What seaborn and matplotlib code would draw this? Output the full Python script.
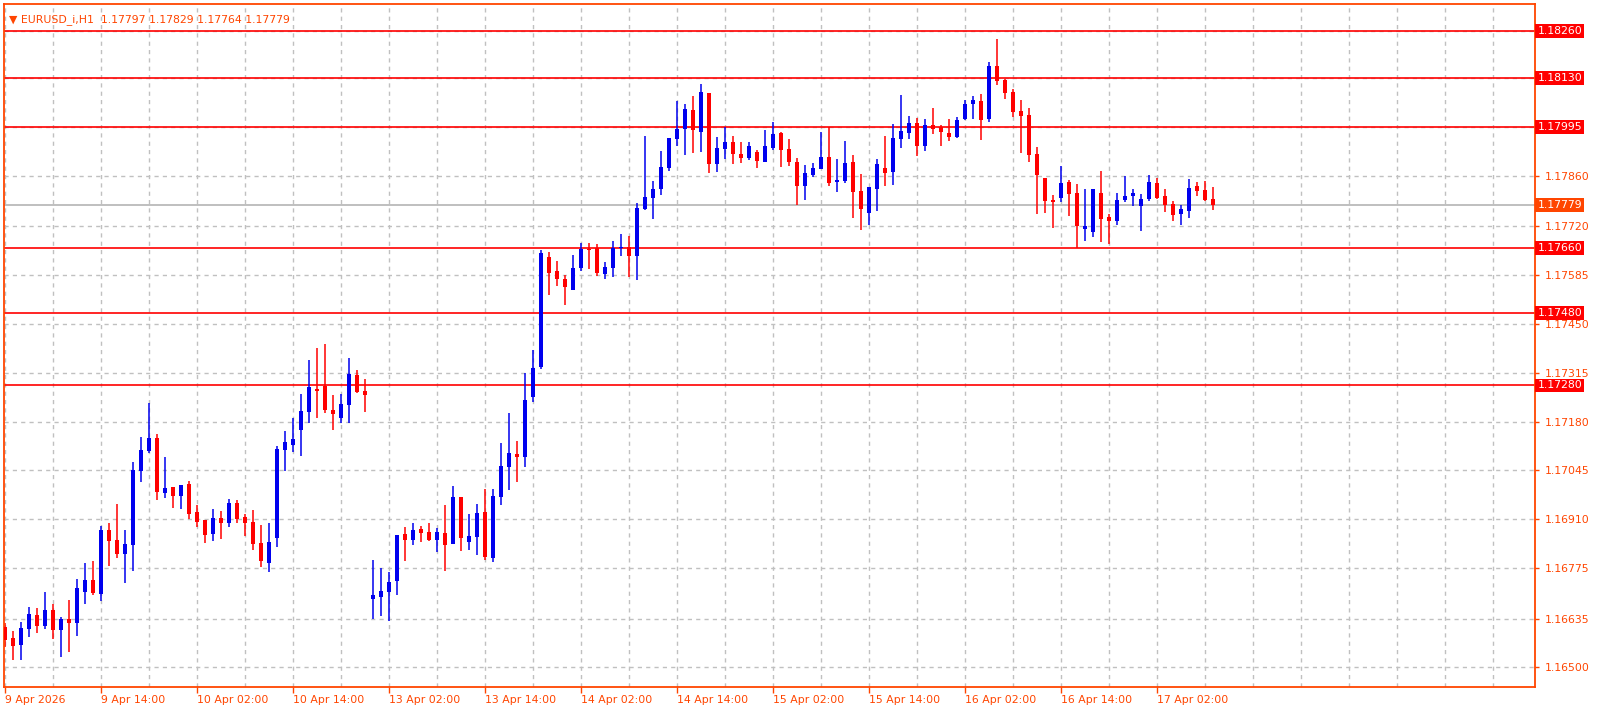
import matplotlib
matplotlib.use('Agg')
import matplotlib.pyplot as plt
import seaborn as sns
import numpy as np
import pandas as pd

# EURUSD_i H1 candles
opens = [1.16612, 1.16582, 1.16562, 1.16607, 1.16645, 1.16615, 1.16659, 1.16604, 1.16634, 1.16623,
         1.16709, 1.16742, 1.16703, 1.16880, 1.16853, 1.16814, 1.16839, 1.17043, 1.17099, 1.17135,
         1.16983, 1.16999, 1.16974, 1.17007, 1.16930, 1.16908, 1.16869, 1.16913, 1.16900, 1.16955,
         1.16916, 1.16902, 1.16844, 1.16789, 1.16858, 1.17102, 1.17115, 1.17157, 1.17207, 1.17270,
         1.17278, 1.17212, 1.17190, 1.17226, 1.17309, 1.17265, 1.16690, 1.16695, 1.16709, 1.16739,
         1.16869, 1.16853, 1.16883, 1.16875, 1.16853, 1.16872, 1.16842, 1.16972, 1.16847, 1.16861,
         1.16930, 1.16803, 1.16972, 1.17054, 1.17090, 1.17082, 1.17248, 1.17331, 1.17635, 1.17596,
         1.17574, 1.17544, 1.17605, 1.17657, 1.17660, 1.17588, 1.17605, 1.17660, 1.17663, 1.17638,
         1.17768, 1.17798, 1.17823, 1.17881, 1.17961, 1.17989, 1.18042, 1.17981, 1.18089, 1.17892,
         1.17934, 1.17953, 1.17920, 1.17909, 1.17925, 1.17898, 1.17937, 1.17978, 1.17934, 1.17898,
         1.17831, 1.17862, 1.17878, 1.17912, 1.17843, 1.17845, 1.17898, 1.17818, 1.17757, 1.17823,
         1.17881, 1.17870, 1.17961, 1.17978, 1.18006, 1.17942, 1.18000, 1.17995, 1.17978, 1.17967,
         1.18017, 1.18058, 1.18066, 1.18017, 1.18163, 1.18125, 1.18091, 1.18039, 1.18028, 1.17920,
         1.17854, 1.17793, 1.17798, 1.17843, 1.17812, 1.17713, 1.17704, 1.17812, 1.17746, 1.17735,
         1.17793, 1.17804, 1.17776, 1.17795, 1.17840, 1.17804, 1.17782, 1.17754, 1.17762, 1.17831,
         1.17820, 1.17797]
highs = [1.16623, 1.16601, 1.16626, 1.16667, 1.16665, 1.16709, 1.16676, 1.16640, 1.16687, 1.16745,
         1.16789, 1.16795, 1.16891, 1.16900, 1.16952, 1.16880, 1.17068, 1.17137, 1.17231, 1.17146,
         1.17082, 1.16999, 1.17005, 1.17016, 1.16949, 1.16908, 1.16938, 1.16933, 1.16966, 1.16963,
         1.16924, 1.16936, 1.16894, 1.16900, 1.17112, 1.17154, 1.17190, 1.17256, 1.17350, 1.17384,
         1.17395, 1.17254, 1.17256, 1.17356, 1.17323, 1.17298, 1.16797, 1.16775, 1.16764, 1.16866,
         1.16889, 1.16900, 1.16891, 1.16900, 1.16886, 1.16949, 1.17002, 1.16972, 1.16924, 1.16952,
         1.16994, 1.16994, 1.17121, 1.17204, 1.17126, 1.17314, 1.17378, 1.17654, 1.17649, 1.17624,
         1.17585, 1.17641, 1.17674, 1.17674, 1.17671, 1.17621, 1.17679, 1.17699, 1.17693, 1.17784,
         1.17970, 1.17845, 1.17928, 1.17964, 1.18066, 1.18058, 1.18080, 1.18113, 1.18089, 1.17967,
         1.17995, 1.17970, 1.17953, 1.17953, 1.17931, 1.17986, 1.18008, 1.17981, 1.17961, 1.17909,
         1.17890, 1.17895, 1.17981, 1.17995, 1.17906, 1.17956, 1.17917, 1.17865, 1.17829, 1.17906,
         1.17970, 1.18003, 1.18083, 1.18025, 1.18019, 1.18017, 1.18047, 1.18000, 1.18017, 1.18022,
         1.18069, 1.18080, 1.18086, 1.18174, 1.18238, 1.18127, 1.18100, 1.18069, 1.18047, 1.17939,
         1.17854, 1.17807, 1.17887, 1.17848, 1.17837, 1.17823, 1.17823, 1.17873, 1.17754, 1.17812,
         1.17859, 1.17823, 1.17809, 1.17862, 1.17854, 1.17823, 1.17790, 1.17779, 1.17851, 1.17843,
         1.17845, 1.17829]
lows = [1.16557, 1.16521, 1.16521, 1.16584, 1.16596, 1.16607, 1.16579, 1.16529, 1.16543, 1.16587,
        1.16676, 1.16700, 1.16684, 1.16781, 1.16803, 1.16734, 1.16767, 1.17013, 1.17093, 1.16963,
        1.16969, 1.16941, 1.16938, 1.16911, 1.16889, 1.16844, 1.16850, 1.16855, 1.16889, 1.16900,
        1.16864, 1.16825, 1.16778, 1.16764, 1.16833, 1.17043, 1.17096, 1.17085, 1.17176, 1.17190,
        1.17204, 1.17157, 1.17176, 1.17176, 1.17259, 1.17207, 1.16634, 1.16643, 1.16629, 1.16700,
        1.16795, 1.16839, 1.16847, 1.16850, 1.16819, 1.16767, 1.16842, 1.16822, 1.16825, 1.16811,
        1.16797, 1.16792, 1.16949, 1.16991, 1.17013, 1.17054, 1.17234, 1.17325, 1.17530, 1.17555,
        1.17502, 1.17544, 1.17596, 1.17602, 1.17583, 1.17574, 1.17580, 1.17638, 1.17580, 1.17572,
        1.17765, 1.17740, 1.17807, 1.17873, 1.17942, 1.17917, 1.17923, 1.17925, 1.17867, 1.17870,
        1.17906, 1.17892, 1.17895, 1.17903, 1.17881, 1.17898, 1.17931, 1.17884, 1.17887, 1.17779,
        1.17793, 1.17856, 1.17878, 1.17831, 1.17815, 1.17840, 1.17743, 1.17710, 1.17724, 1.17762,
        1.17831, 1.17834, 1.17937, 1.17961, 1.17914, 1.17928, 1.17975, 1.17942, 1.17956, 1.17964,
        1.18014, 1.18017, 1.17959, 1.18008, 1.18111, 1.18072, 1.18022, 1.17923, 1.17898, 1.17754,
        1.17757, 1.17715, 1.17787, 1.17749, 1.17660, 1.17679, 1.17690, 1.17677, 1.17671, 1.17724,
        1.17787, 1.17776, 1.17707, 1.17790, 1.17795, 1.17760, 1.17735, 1.17724, 1.17743, 1.17804,
        1.17790, 1.17764]
closes = [1.16576, 1.16560, 1.16609, 1.16648, 1.16615, 1.16659, 1.16604, 1.16634, 1.16623, 1.16720,
          1.16742, 1.16706, 1.16880, 1.16850, 1.16814, 1.16842, 1.17046, 1.17102, 1.17135, 1.16985,
          1.16996, 1.16974, 1.17005, 1.16924, 1.16902, 1.16866, 1.16913, 1.16900, 1.16955, 1.16911,
          1.16900, 1.16842, 1.16795, 1.16847, 1.17104, 1.17124, 1.17132, 1.17209, 1.17276, 1.17265,
          1.17212, 1.17201, 1.17229, 1.17312, 1.17262, 1.17254, 1.16700, 1.16712, 1.16737, 1.16866,
          1.16853, 1.16880, 1.16872, 1.16853, 1.16875, 1.16839, 1.16972, 1.16858, 1.16864, 1.16927,
          1.16806, 1.16974, 1.17057, 1.17093, 1.17082, 1.17240, 1.17328, 1.17646, 1.17591, 1.17574,
          1.17552, 1.17605, 1.17657, 1.17654, 1.17591, 1.17608, 1.17660, 1.17663, 1.17638, 1.17771,
          1.17801, 1.17823, 1.17884, 1.17964, 1.17989, 1.18044, 1.17986, 1.18091, 1.17892, 1.17937,
          1.17953, 1.17920, 1.17909, 1.17942, 1.17901, 1.17942, 1.17975, 1.17931, 1.17898, 1.17831,
          1.17867, 1.17881, 1.17912, 1.17840, 1.17848, 1.17895, 1.17815, 1.17768, 1.17829, 1.17892,
          1.17867, 1.17964, 1.17984, 1.18006, 1.17942, 1.18000, 1.17989, 1.17981, 1.17967, 1.18014,
          1.18058, 1.18069, 1.18014, 1.18163, 1.18122, 1.18089, 1.18036, 1.18025, 1.17917, 1.17862,
          1.17790, 1.17787, 1.17840, 1.17809, 1.17721, 1.17721, 1.17823, 1.17740, 1.17735, 1.17793,
          1.17804, 1.17812, 1.17795, 1.17843, 1.17798, 1.17779, 1.17751, 1.17768, 1.17826, 1.17818,
          1.17793, 1.17779]

time_labels = ['9 Apr 2026', '9 Apr 14:00', '10 Apr 02:00', '10 Apr 14:00', '13 Apr 02:00',
               '13 Apr 14:00', '14 Apr 02:00', '14 Apr 14:00', '15 Apr 02:00', '15 Apr 14:00',
               '16 Apr 02:00', '16 Apr 14:00', '17 Apr 02:00']
price_ticks = [1.16500, 1.16635, 1.16775, 1.16910, 1.17045, 1.17180, 1.17315, 1.17450,
               1.17585, 1.17720, 1.17860]
levels = [1.18260, 1.18130, 1.17995, 1.17660, 1.17480, 1.17280]
bid = 1.17779
header = '\u25bc EURUSD_i,H1  1.17797 1.17829 1.17764 1.17779'

df = pd.DataFrame({'open': opens, 'high': highs, 'low': lows, 'close': closes})
df['idx'] = np.arange(len(df))
df['up'] = df['close'] >= df['open']

sns.set_theme(style='white')
plt.rcParams['font.family'] = ['DejaVu Sans']

ORANGE = '#ff4500'
BLUE = '#0000ee'
RED = '#ff0000'
GRID = '#c0c0c0'

fig = plt.figure(figsize=(16.01, 7.13), dpi=100)
ax = fig.add_axes([4 / 1601, 26 / 713, 1531 / 1601, 683 / 713])
ax.set_facecolor('white')

ax.set_xlim(-0.125, 191.25)
ax.set_ylim(1.16446, 1.18335)

# grid
for gx in range(0, 192, 6):
    ax.axvline(gx, color=GRID, lw=1, ls=(0, (3, 3)), zorder=0)
for gy in price_ticks + [1.17995, 1.18130, 1.18260]:
    ax.axhline(gy, color=GRID, lw=1, ls=(0, (3, 3)), zorder=0)

# levels
for lv in levels:
    ax.axhline(lv, color=RED, lw=1.2, zorder=1)
ax.axhline(bid, color='#b4b4b4', lw=1.2, zorder=1)

# candles
colors = np.where(df['up'], BLUE, RED)
ax.vlines(df['idx'], df['low'], df['high'], colors=colors, lw=1.1, zorder=2)
body_lo = np.minimum(df['open'], df['close'])
body_h = np.maximum(np.abs(df['close'] - df['open']), 0.00003)
ax.bar(df['idx'], body_h, bottom=body_lo, width=0.62, color=colors, linewidth=0, zorder=3)

for s in ax.spines.values():
    s.set_color(ORANGE)
    s.set_linewidth(1.3)

# price axis on the right
ax.yaxis.tick_right()
ax.set_yticks(price_ticks)
ax.set_yticklabels([f'{p:.5f}' for p in price_ticks])
ax.tick_params(axis='y', colors=ORANGE, labelcolor=ORANGE, length=3, width=1,
               labelsize=7.8, pad=4, direction='out')
for lv in levels:
    ax.text(1.0015, lv, f'{lv:.5f}', transform=ax.get_yaxis_transform(), ha='left', va='center',
            fontsize=7.8, color='white',
            bbox=dict(boxstyle='square,pad=0.18', fc=RED, ec='none'))
ax.text(1.0015, bid, f'{bid:.5f}', transform=ax.get_yaxis_transform(), ha='left', va='center',
        fontsize=7.8, color='white',
        bbox=dict(boxstyle='square,pad=0.18', fc=ORANGE, ec='none'))

# time axis
ax.set_xticks(np.arange(0, 12 * len(time_labels), 12))
ax.set_xticklabels(time_labels, ha='left')
ax.tick_params(axis='x', colors=ORANGE, labelcolor=ORANGE, length=4, width=1,
               labelsize=7.8, pad=2, direction='out', bottom=True)

ax.text(0.003, 0.985, header, transform=ax.transAxes, ha='left', va='top',
        fontsize=7.8, color=ORANGE)

fig.savefig('out.png', dpi=100)
